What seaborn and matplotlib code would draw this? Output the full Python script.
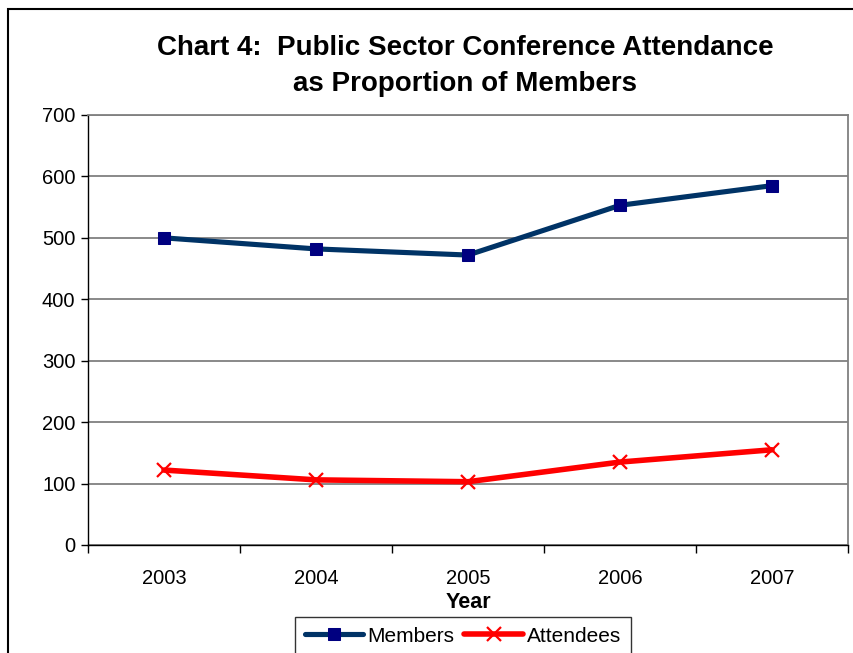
import matplotlib
matplotlib.use("Agg")
import matplotlib.pyplot as plt
from matplotlib.patches import Rectangle
from matplotlib.ticker import FixedLocator
import seaborn as sns
import pandas as pd

years = ["2003", "2004", "2005", "2006", "2007"]
members = [500, 482, 472, 553, 585]
attendees = [122, 106, 103, 135, 155]

sns.set_theme(style="white")
plt.rcParams["font.family"] = ["Liberation Sans", "DejaVu Sans"]
plt.rcParams["text.color"] = "black"
plt.rcParams["axes.labelcolor"] = "black"
plt.rcParams["xtick.color"] = "black"
plt.rcParams["ytick.color"] = "black"

df = pd.DataFrame({"Year": years, "Members": members, "Attendees": attendees})

fig = plt.figure(figsize=(8.54, 6.53), dpi=100)
ax = fig.add_axes([0.103, 0.1654, 0.890, 0.6585])

sns.lineplot(data=df, x="Year", y="Members", ax=ax, color="#003366", lw=3.7,
             marker="s", markersize=8.5, markerfacecolor="#000080",
             markeredgecolor="#000080", label="Members", sort=False)
sns.lineplot(data=df, x="Year", y="Attendees", ax=ax, color="#FF0000", lw=4.0,
             marker="x", markersize=10, markeredgewidth=1.6, markeredgecolor="#FF0000",
             label="Attendees", sort=False)

ax.set_xlim(-0.5, len(years) - 0.5)
ax.set_ylim(0, 700)
ax.set_yticks(range(0, 701, 100))
ax.yaxis.grid(True, color="#808080", lw=1.3)
ax.xaxis.grid(False)
ax.set_axisbelow(True)

for side in ("top", "right"):
    ax.spines[side].set_color("#808080")
    ax.spines[side].set_linewidth(1.3)
for side in ("left", "bottom"):
    ax.spines[side].set_color("#000000")
    ax.spines[side].set_linewidth(1.0)

ax.tick_params(axis="y", which="major", direction="out", length=5, width=1,
               color="black", labelcolor="black", labelsize=14.5, pad=4, left=True)
ax.tick_params(axis="x", which="major", length=0, labelsize=14.5, labelcolor="black", pad=17)
ax.xaxis.set_minor_locator(FixedLocator([i - 0.5 for i in range(len(years) + 1)]))
ax.tick_params(axis="x", which="minor", direction="out", length=6, width=1,
               color="black", bottom=True)

ax.set_xlabel("Year", fontsize=15.5, fontweight="bold", labelpad=3, color="black")
ax.set_ylabel("")

fig.suptitle("Chart 4:  Public Sector Conference Attendance\nas Proportion of Members",
             x=0.545, y=0.946, fontsize=20, fontweight="bold", linespacing=1.5,
             color="black")

leg = ax.legend(loc="upper center", bbox_to_anchor=(0.542, 0.0545),
                bbox_transform=fig.transFigure, ncol=2, fontsize=15,
                frameon=True, fancybox=False, edgecolor="black",
                handlelength=2.8, handletextpad=0.2, columnspacing=0.5,
                borderpad=0.45, borderaxespad=0)
leg.get_frame().set_linewidth(1.0)
for t in leg.get_texts():
    t.set_color("black")

fig.patches.append(Rectangle((0.009, -0.1), 1.2, 1.086, transform=fig.transFigure,
                             fill=False, edgecolor="black", lw=1.5, clip_on=False))

fig.savefig("out.png", dpi=100)
